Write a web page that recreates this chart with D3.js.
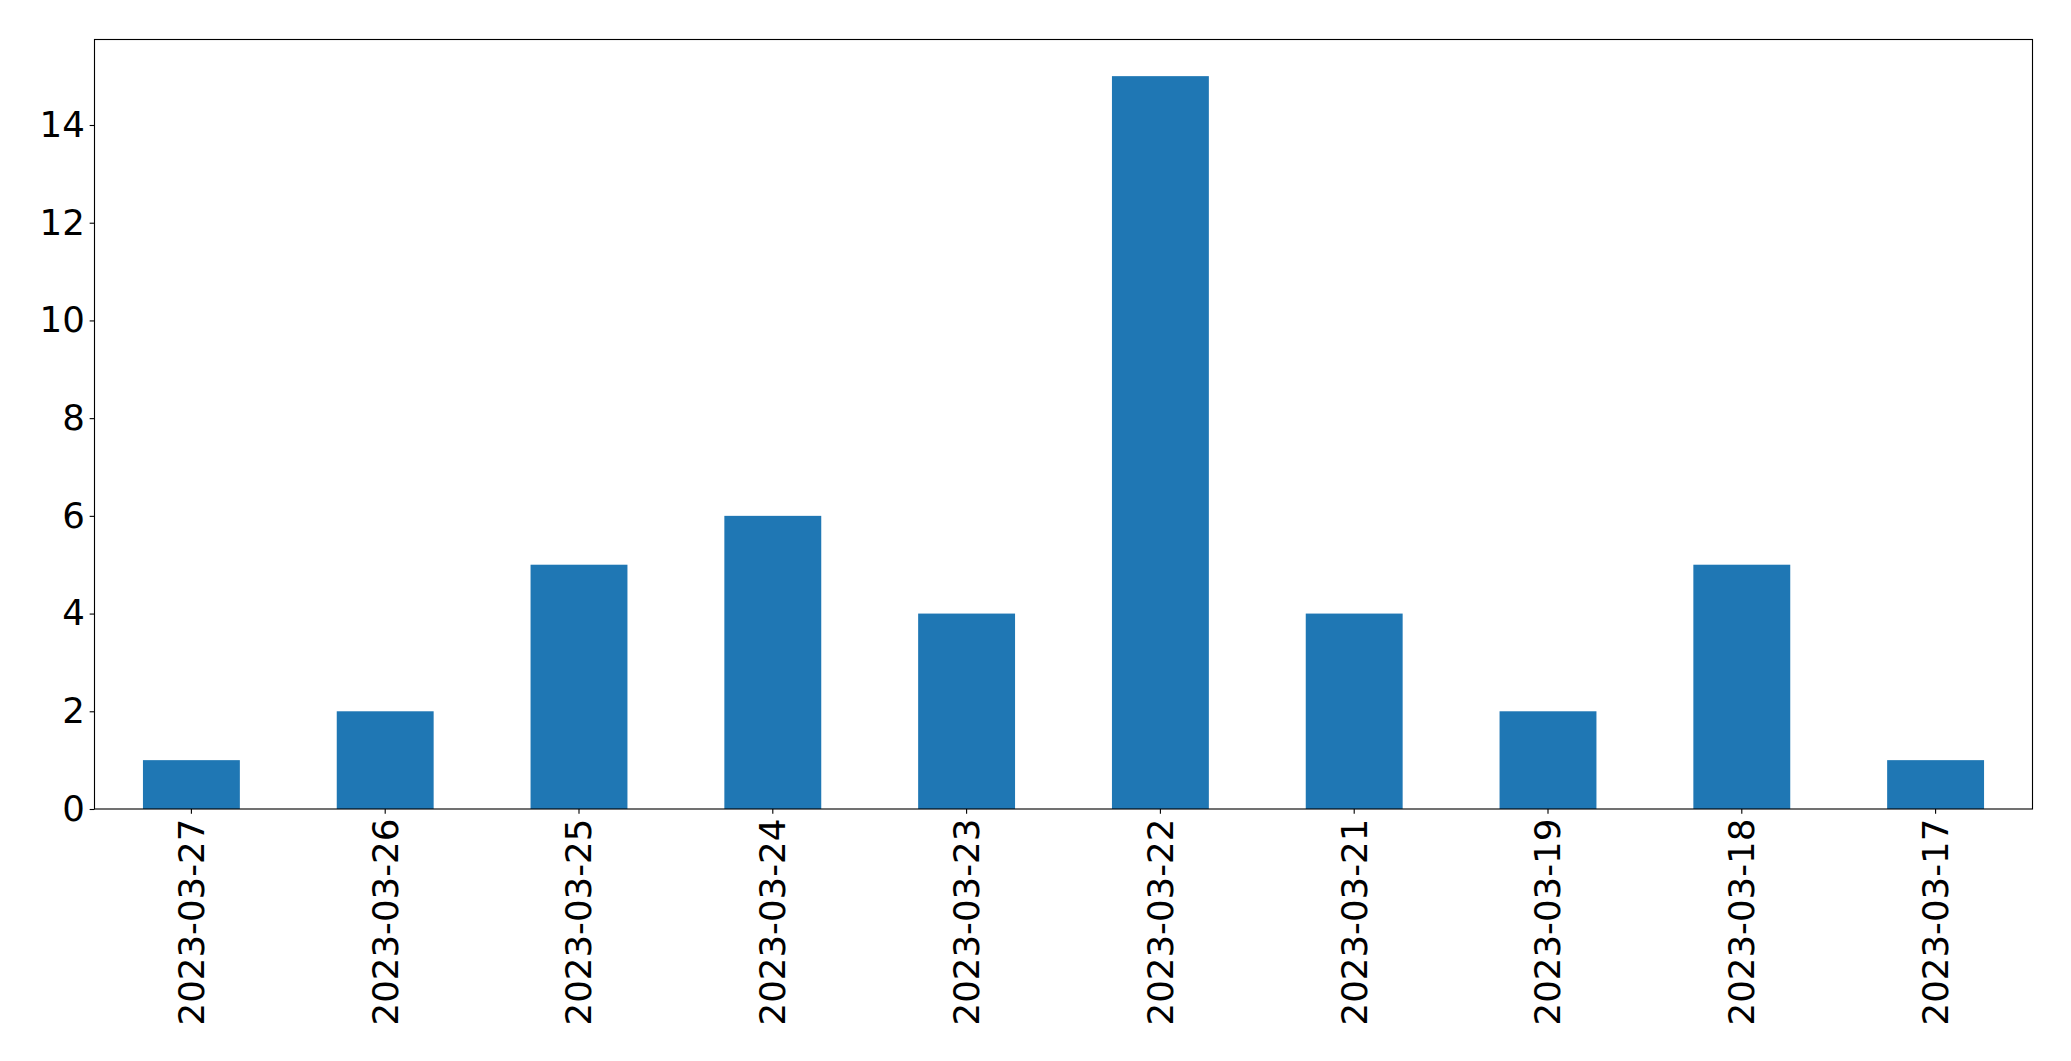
<!DOCTYPE html>
<html>
<head>
<meta charset="utf-8">
<script src="https://cdn.jsdelivr.net/npm/d3@7"></script>
<style>
  html, body { margin: 0; padding: 0; background: #fff; }
  svg { display: block; }
  text { font-family: "DejaVu Sans", sans-serif; }
</style>
</head>
<body>
<script>
const categories = ["2023-03-27","2023-03-26","2023-03-25","2023-03-24","2023-03-23","2023-03-22","2023-03-21","2023-03-19","2023-03-18","2023-03-17"];
const values = [1, 2, 5, 6, 4, 15, 4, 2, 5, 1];
const yTicks = [0, 2, 4, 6, 8, 10, 12, 14];

const W = 2071, H = 1061;
const mLeft = 94.5, mRight = 2032.5, mTop = 39.5, mBottom = 809;
const tickLen = 4.86, pad = 4.86, fontPx = 35.6;

const svg = d3.select("body").append("svg").attr("width", W).attr("height", H);

const x = d3.scaleBand().domain(categories).range([mLeft, mRight]).paddingInner(0.5).paddingOuter(0.25);
const yMax = d3.max(values) * 1.05;
const y = d3.scaleLinear().domain([0, yMax]).range([mBottom, mTop]);

svg.append("g").selectAll("rect").data(values).join("rect")
  .attr("x", (d, i) => x(categories[i]))
  .attr("width", x.bandwidth())
  .attr("y", d => y(d))
  .attr("height", d => y(0) - y(d))
  .attr("fill", "#1f77b4");

// Y axis
const yAxis = svg.append("g").attr("transform", `translate(${mLeft},0)`)
  .call(d3.axisLeft(y).tickValues(yTicks).tickSize(tickLen).tickPadding(pad).tickFormat(d3.format("d")));
yAxis.select(".domain").remove();
yAxis.selectAll(".tick line").attr("stroke", "#000").attr("stroke-width", 1.11);
yAxis.selectAll(".tick text").attr("font-size", fontPx).attr("fill", "#000")
  .attr("font-family", "DejaVu Sans, sans-serif");

// X axis
const xAxis = svg.append("g").attr("transform", `translate(0,${mBottom})`)
  .call(d3.axisBottom(x).tickSize(tickLen).tickPadding(pad));
xAxis.select(".domain").remove();
xAxis.selectAll(".tick line").attr("stroke", "#000").attr("stroke-width", 1.11);
xAxis.selectAll(".tick text")
  .attr("font-size", fontPx).attr("fill", "#000")
  .attr("font-family", "DejaVu Sans, sans-serif")
  .attr("text-anchor", "end")
  .attr("dy", "0.35em")
  .attr("x", 0).attr("y", 0)
  .attr("transform", `translate(0,${tickLen + pad}) rotate(-90)`);

// Frame
svg.append("rect")
  .attr("x", mLeft).attr("y", mTop)
  .attr("width", mRight - mLeft).attr("height", mBottom - mTop)
  .attr("fill", "none").attr("stroke", "#000").attr("stroke-width", 1.11);
</script>
</body>
</html>
